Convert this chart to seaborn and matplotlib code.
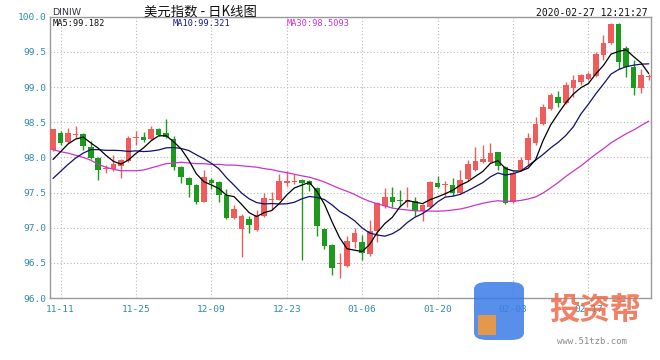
import numpy as np
import pandas as pd
import matplotlib
matplotlib.use("Agg")
import matplotlib.pyplot as plt
from matplotlib.patches import FancyBboxPatch
import seaborn as sns

# ---------------- data ----------------
start_date = "2019-11-08"
end_date = "2020-02-27"
opens = [98.10, 98.35, 98.22, 98.32, 98.33, 98.15, 97.99, 97.83, 97.83, 97.87,
         97.95, 98.27, 98.29, 98.26, 98.40, 98.34, 98.26, 97.86, 97.71, 97.61,
         97.37, 97.68, 97.65, 97.47, 97.14, 96.98, 97.12, 96.97, 97.16, 97.40,
         97.40, 97.64, 97.65, 97.68, 97.66, 97.57, 96.98, 96.76, 96.48, 96.45,
         96.79, 96.79, 96.62, 96.95, 97.31, 97.43, 97.40, 97.37, 97.38, 97.24,
         97.30, 97.63, 97.60, 97.61, 97.49, 97.69, 97.82, 97.93, 97.94, 98.07,
         97.86, 97.36, 97.82, 97.96, 98.20, 98.47, 98.69, 98.86, 98.77, 98.98,
         99.07, 99.11, 99.15, 99.45, 99.62, 99.90, 99.55, 99.29, 98.99, 99.14]
highs = [98.41, 98.38, 98.42, 98.45, 98.35, 98.23, 98.00, 97.89, 98.03, 97.97,
         98.31, 98.37, 98.36, 98.45, 98.42, 98.55, 98.30, 97.87, 97.72, 97.62,
         97.82, 97.70, 97.66, 97.55, 97.32, 97.20, 97.16, 97.25, 97.49, 97.51,
         97.77, 97.81, 97.76, 97.69, 97.68, 97.58, 97.00, 96.77, 96.64, 96.88,
         96.99, 96.90, 97.11, 97.36, 97.56, 97.58, 97.54, 97.58, 97.44, 97.33,
         97.67, 97.74, 97.67, 97.70, 97.82, 97.96, 98.15, 98.17, 98.20, 98.08,
         97.88, 97.80, 98.00, 98.34, 98.58, 98.76, 98.91, 98.95, 99.07, 99.17,
         99.18, 99.21, 99.50, 99.74, 99.91, 99.91, 99.59, 99.38, 99.26, 99.19]
lows = [98.09, 98.18, 98.21, 98.27, 98.11, 97.97, 97.68, 97.78, 97.81, 97.70,
        97.94, 98.17, 98.22, 98.25, 98.30, 98.27, 97.82, 97.63, 97.43, 97.34,
        97.36, 97.55, 97.37, 97.12, 97.12, 96.59, 96.92, 96.95, 97.15, 97.25,
        97.39, 97.59, 97.62, 96.54, 97.52, 96.88, 96.69, 96.33, 96.29, 96.44,
        96.71, 96.54, 96.60, 96.80, 97.28, 97.30, 97.30, 97.30, 97.16, 97.09,
        97.28, 97.56, 97.45, 97.45, 97.48, 97.66, 97.80, 97.92, 97.93, 97.82,
        97.34, 97.35, 97.81, 97.89, 98.18, 98.46, 98.68, 98.72, 98.76, 98.86,
        99.03, 99.10, 99.14, 99.38, 99.61, 99.26, 99.14, 98.88, 98.91, 99.10]
closes = [98.40, 98.20, 98.35, 98.33, 98.16, 97.99, 97.82, 97.85, 97.90, 97.96,
          98.28, 98.29, 98.24, 98.40, 98.32, 98.29, 97.86, 97.72, 97.61, 97.36,
          97.72, 97.63, 97.46, 97.14, 97.26, 97.17, 97.04, 97.18, 97.42, 97.41,
          97.66, 97.66, 97.67, 97.63, 97.60, 97.02, 96.74, 96.43, 96.50, 96.81,
          96.92, 96.64, 96.95, 97.35, 97.43, 97.37, 97.38, 97.40, 97.24, 97.32,
          97.65, 97.58, 97.62, 97.49, 97.68, 97.90, 97.95, 97.98, 98.06, 97.87,
          97.35, 97.78, 97.96, 98.27, 98.48, 98.72, 98.88, 98.77, 99.03, 99.10,
          99.17, 99.18, 99.47, 99.62, 99.90, 99.36, 99.29, 98.99, 99.17, 99.15]
# moving-average values at the start of the window (read from the picture,
# they depend on days before the first candle)
ma5_head = [97.97, 98.08, 98.19, 98.26]
ma10_head = [97.70, 97.80, 97.90, 97.99, 98.06, 98.11, 98.11, 98.10, 98.10]
ma30_head = [98.11, 98.08, 98.06, 98.03, 98.00, 97.96, 97.90, 97.86, 97.83, 97.81,
             97.81, 97.81, 97.82, 97.85, 97.88, 97.91, 97.92, 97.93, 97.92, 97.91,
             97.91, 97.90, 97.90, 97.89, 97.89, 97.88, 97.87, 97.86, 97.84]
tick_labels = ["11-11", "11-25", "12-09", "12-23", "01-06", "01-20", "02-03", "02-17"]
y_ticks = [96.0, 96.5, 97.0, 97.5, 98.0, 98.5, 99.0, 99.5, 100.0]
ma_texts = ["MA5:99.182", "MA10:99.321", "MA30:98.5093"]
title_text = "美元指数 - 日K线图"
symbol_text = "DINIW"
time_text = "2020-02-27 12:21:27"

# ---------------- build frame ----------------
dates = pd.bdate_range(start_date, end_date)
df = pd.DataFrame({"date": dates, "open": opens, "high": highs,
                   "low": lows, "close": closes})
df["x"] = np.arange(len(df))
for n, head in ((5, ma5_head), (10, ma10_head), (30, ma30_head)):
    s = df["close"].rolling(n).mean()
    s.iloc[:len(head)] = head
    df[f"ma{n}"] = s

RED = "#F05C5C"
GREEN = "#1C9A1C"
AXC = "#2E8CA8"

sns.set_style("white")
plt.rcParams["font.family"] = ["DejaVu Sans Mono", "Noto Sans CJK SC"]

fig = plt.figure(figsize=(6.6, 3.6), dpi=100)
ax = fig.add_axes([50 / 660, 62 / 360, 601 / 660, 281.3 / 360])

up = df["close"] >= df["open"]
cols = np.where(up, RED, GREEN)
ax.vlines(df["x"], df["low"], df["high"], colors=cols, linewidth=1.0, zorder=2)
body_h = np.maximum((df["close"] - df["open"]).abs(), 0.012)
body_b = np.minimum(df["open"], df["close"])
ax.bar(df["x"], body_h, bottom=body_b, width=0.74, color=cols,
       linewidth=0, zorder=3)

sns.lineplot(data=df, x="x", y="ma30", ax=ax, color="#CC33CC", linewidth=0.9, zorder=4)
sns.lineplot(data=df, x="x", y="ma10", ax=ax, color="#101070", linewidth=0.9, zorder=5)
sns.lineplot(data=df, x="x", y="ma5", ax=ax, color="#000000", linewidth=0.9, zorder=6)

ax.set_xlim(-0.4, len(df) - 0.7)
ax.set_ylim(96.0, 100.0)
ax.set_yticks(y_ticks)
ax.set_yticklabels([f"{v:.1f}" for v in y_ticks])
md = df["date"].dt.strftime("%m-%d").tolist()
ax.set_xticks([md.index(t) for t in tick_labels])
ax.set_xticklabels(tick_labels)
ax.set_xlabel("")
ax.set_ylabel("")
ax.tick_params(axis="both", length=0, labelsize=6.8, labelcolor=AXC)
ax.tick_params(axis="y", pad=2.5)
ax.tick_params(axis="x", pad=5)
ax.grid(True, color="#B8B8B8", linestyle=(0, (1, 2)), linewidth=0.8)
ax.set_axisbelow(True)
for sp in ax.spines.values():
    sp.set_visible(True)
    sp.set_color("#9A9A9A")
    sp.set_linewidth(1.0)

# header texts
fig.text(52 / 660, 1 - 12.5 / 360, symbol_text, fontsize=6.8, color="#333344",
         va="center", ha="left", family=["DejaVu Sans Condensed", "DejaVu Sans"])
fig.text(200 / 660, 1 - 12 / 360, title_text, fontsize=9.6, color="#111111",
         va="center", ha="center", family=["Noto Sans CJK SC", "DejaVu Sans"])
fig.text(648 / 660, 1 - 12.5 / 360, time_text, fontsize=7.0, color="#111111",
         va="center", ha="right")
ma_cols = ["#111111", "#1A1A8A", "#CC33CC"]
ma_x = [53, 173, 287]
for t, c, xx in zip(ma_texts, ma_cols, ma_x):
    fig.text(xx / 660, 1 - 23.5 / 360, t, fontsize=6.2, color=c, va="center", ha="left")

# watermark
logo = FancyBboxPatch((474 / 660, 1 - 340 / 360), 50 / 660, 58 / 360,
                      boxstyle="round,pad=0,rounding_size=0.02",
                      transform=fig.transFigure, facecolor="#3B7BE8",
                      edgecolor="none", alpha=0.85, zorder=10)
fig.patches.append(logo)
fig.patches.append(FancyBboxPatch((478 / 660, 1 - 335 / 360), 18 / 660, 20 / 360,
                                  boxstyle="square,pad=0", transform=fig.transFigure,
                                  facecolor="#F39A3C", edgecolor="none", alpha=0.9,
                                  zorder=11))
fig.text(595 / 660, 1 - 310 / 360, "投资帮", fontsize=22, color="#F06A4A",
         alpha=0.85, ha="center", va="center", weight="bold",
         family=["Noto Sans CJK SC", "DejaVu Sans"], zorder=12)
fig.text(592 / 660, 1 - 342 / 360, "www.51tzb.com", fontsize=6.5, color="#8A8A8A",
         ha="center", va="center", zorder=12)

fig.savefig("out.png", dpi=100, facecolor="white")
